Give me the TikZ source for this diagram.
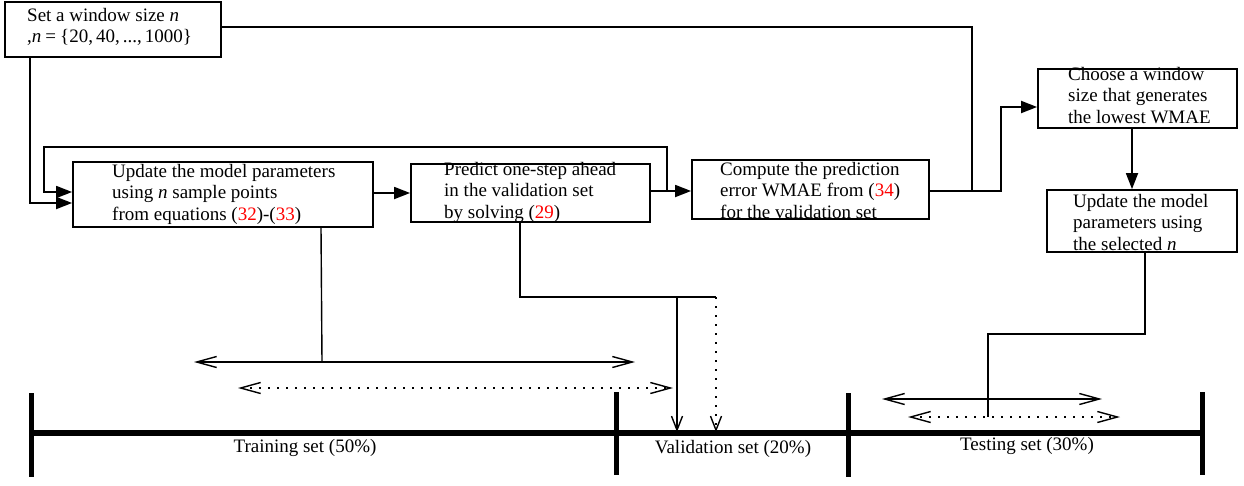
\documentclass[tikz,border=0pt]{standalone}
\usepackage{fontspec}
\setmainfont{Liberation Serif}
\usetikzlibrary{arrows.meta,calc}
\begin{document}
\begin{tikzpicture}[x=1pt,y=-1pt,
 box/.style={draw,line width=1.8pt,inner sep=0pt,rectangle},
 txt/.style={anchor=base west,inner sep=0pt,font=\fontsize{19}{21.5}\selectfont},
 flow/.style={line width=1.8pt,-{Triangle[length=16pt,width=12pt]}},
 conn/.style={line width=1.8pt},
 thin/.style={line width=1.4pt},
 span/.style={line width=1.4pt,{Straight Barb[length=20pt,width=11pt]}-{Straight Barb[length=20pt,width=11pt]}},
 dotl/.style={dash pattern=on 1.6pt off 7.4pt},
 downarr/.style={line width=1.4pt,-{Straight Barb[length=14pt,width=11pt]}},
 axisline/.style={line width=6pt},
 tickline/.style={line width=5pt},
 lab/.style={anchor=base,inner sep=0pt,font=\fontsize{19}{21.5}\selectfont}]
\useasboundingbox (0,0) rectangle (1244,485);

% boxes
\node[box,minimum width=216pt,minimum height=55pt] (b1) at (113,29.5) {};
\node[box,minimum width=300pt,minimum height=65pt] (b2) at (223,194.5) {};
\node[box,minimum width=239pt,minimum height=58pt] (b3) at (530.5,193) {};
\node[box,minimum width=237pt,minimum height=59pt] (b4) at (810.5,189.5) {};
\node[box,minimum width=199pt,minimum height=59pt] (b5) at (1137.5,98.5) {};
\node[box,minimum width=190pt,minimum height=62pt] (b6) at (1142,221) {};

% texts
\node[txt] (t1) at (27,21) {\vtop{\hbox{Set a window size \textit{n}}\hbox{,\textit{n}\kern4pt=\kern4pt\{20,\kern3pt40,\kern3pt...,\kern3pt1000\}}}};
\node[txt] (t2) at (112,177) {\vtop{\hbox{Update the model parameters}\hbox{using \textit{n} sample points}\hbox{from equations (\textcolor{red}{32})-(\textcolor{red}{33})}}};
\node[txt] (t3) at (444,175) {\vtop{\hbox{Predict one-step ahead}\hbox{in the validation set}\hbox{by solving (\textcolor{red}{29})}}};
\node[txt] (t4) at (720,175) {\vtop{\hbox{Compute the prediction}\hbox{error WMAE from (\textcolor{red}{34})}\hbox{for the validation set}}};
\node[txt] (t5) at (1068,80) {\vtop{\hbox{Choose a window}\hbox{size that generates}\hbox{the lowest WMAE}}};
\node[txt] (t6) at (1073,207) {\vtop{\hbox{Update the model}\hbox{parameters using}\hbox{the selected \textit{n}}}};

% coordinates
\coordinate (j) at (972,191);
\coordinate (s1) at (322,362);
\coordinate (sa) at (194,362);
\coordinate (sb) at (635,362);
\coordinate (da) at (238,388);
\coordinate (db) at (673,388);
\coordinate (v1) at (677,297);
\coordinate (v2) at (716,297);
\coordinate (ta) at (882,399);
\coordinate (tb) at (1102,399);
\coordinate (tc) at (908,417);
\coordinate (td) at (1120,417);
\coordinate (tm) at (988,417);

% flow connectors
\draw[flow] ([xshift=26pt]b1.south west) |- ([yshift=-8.5pt]b2.west);
\draw[flow] ([yshift=1.5pt]b2.east) -- ([yshift=1.5pt]b2.east -| b3.west);
\draw[flow] ([yshift=2pt]b3.east) -- ([yshift=2pt]b3.east -| b4.west);
\draw[flow] ([yshift=2pt,xshift=16pt]b3.east) -- ++(0,-44) -| ([xshift=-28pt,yshift=2.5pt]b2.west) -- ([yshift=2.5pt]b2.west);
\draw[conn] ([yshift=2.5pt]b1.east) -| (j);
\draw[flow] ([yshift=-1.5pt]b4.east) -| ([xshift=-36pt,yshift=-8.5pt]b5.west) -- ([yshift=-8.5pt]b5.west);
\draw[flow] ([xshift=-5.5pt]b5.south) -- ([xshift=-5.5pt]b5.south |- b6.north);

% lower connectors
\draw[thin] ([xshift=98pt]b2.south) -- (s1);
\draw[span] (sa) -- (sb);
\draw[span,dotl] (da) -- (db);
\draw[thin] ([xshift=-10.5pt]b3.south) |- (v2);
\draw[downarr] (v1) -- ++(0,135);
\draw[downarr,dotl] (v2) -- ++(0,135);
\draw[thin] ([xshift=3pt]b6.south) -- ++(0,81) -| (tm);
\draw[span] (ta) -- (tb);
\draw[span,dotl] (tc) -- (td);

% timeline
\draw[axisline] (30,433) -- (1202,433);
\draw[tickline] (31,393) -- (31,477);
\draw[tickline] (616,392) -- (616,475);
\draw[tickline] (848,393) -- (848,477);
\draw[tickline] (1202,392) -- (1202,475);

\node[lab] (l1) at (305,452) {Training set (50\%)};
\node[lab] (l2) at (733,453) {Validation set (20\%)};
\node[lab] (l3) at (1027,450) {Testing set (30\%)};
\end{tikzpicture}
\end{document}
